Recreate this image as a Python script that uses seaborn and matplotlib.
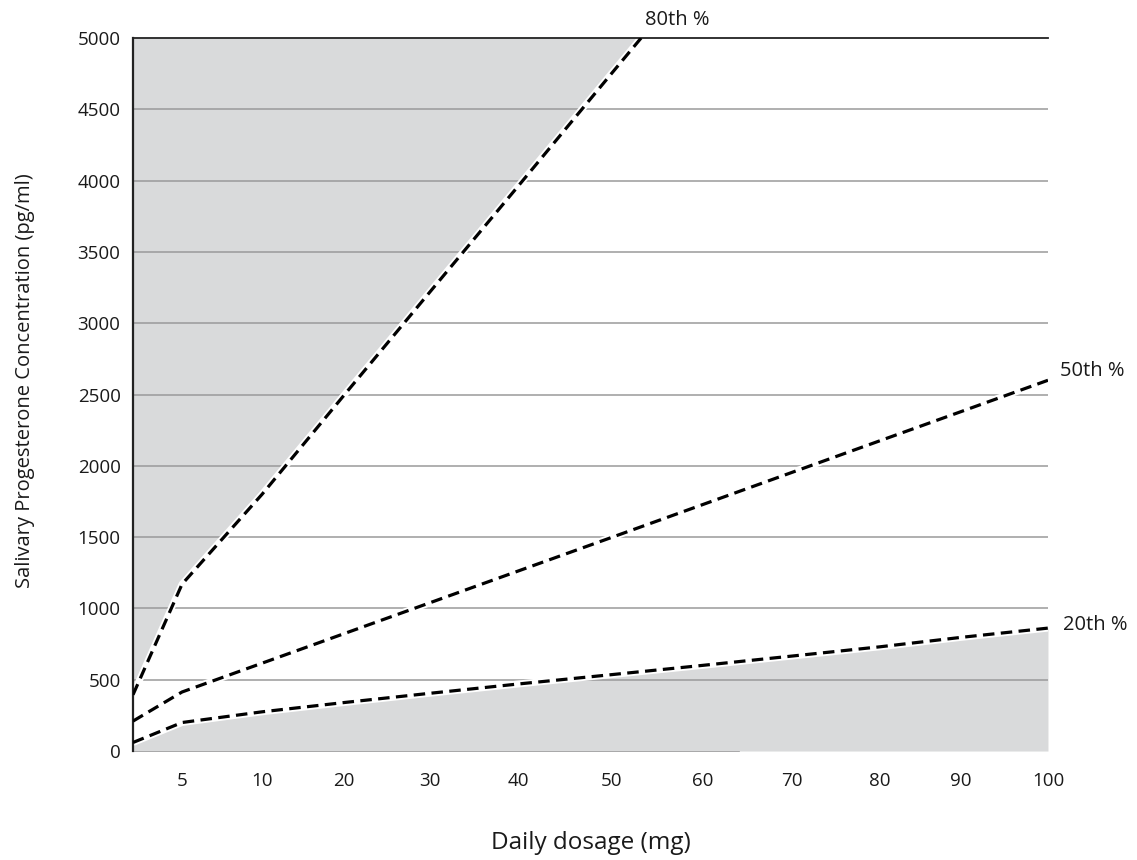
import numpy as np
import pandas as pd
import matplotlib
matplotlib.use("Agg")
import matplotlib.pyplot as plt
import seaborn as sns

# ---- data ----
dose_80 = [2, 5, 10, 20, 30, 40, 50, 53.2]
p80 = [395, 1170, 1800, 2495, 3220, 3960, 4755, 5000]

dose = [2, 5, 10, 20, 30, 40, 50, 60, 70, 80, 90, 100]
p50 = [210, 414, 616, 823, 1040, 1262, 1499, 1729, 1954, 2176, 2380, 2600]
p20 = [60, 200, 275, 340, 405, 470, 536, 601, 666, 731, 797, 862]

labels = ["80th %", "50th %", "20th %"]
x_ticks = [5, 10, 20, 30, 40, 50, 60, 70, 80, 90, 100]
y_ticks = [0, 500, 1000, 1500, 2000, 2500, 3000, 3500, 4000, 4500, 5000]

# ---- axis geometry of the (hand-drawn, irregular) dosage axis ----
scale_breaks = [2, 5, 10, 20, 30, 40, 50, 60, 70, 80, 90, 100]
scale_pos = [133, 182, 262, 344, 430, 518, 612, 703, 792, 880, 961, 1048]

def fwd(x):
    return np.interp(x, scale_breaks, scale_pos)

def inv(p):
    return np.interp(p, scale_pos, scale_breaks)

df = pd.concat([
    pd.DataFrame({"dose": dose_80, "conc": p80, "pct": labels[0]}),
    pd.DataFrame({"dose": dose, "conc": p50, "pct": labels[1]}),
    pd.DataFrame({"dose": dose, "conc": p20, "pct": labels[2]}),
])

sns.set_style("white")
plt.rcParams["font.family"] = ["Open Sans", "DejaVu Sans"]

fig = plt.figure(figsize=(11.37, 8.6), dpi=100)
ax = fig.add_axes([0.117, 0.1267, 0.8047, 0.8291])
ax.set_xscale("function", functions=(fwd, inv))

fill_col = "#d9dadb"
ax.fill_between(dose_80, p80, 5000, color=fill_col, lw=0, zorder=1)
ax.fill_between(dose, 0, p20, color=fill_col, lw=0, zorder=1)

for yv in y_ticks[1:-1]:
    ax.axhline(yv, color="#9a9a9a", lw=1.1, zorder=1.5)

# white halo under the dashed curves
for lab in labels:
    sub = df[df["pct"] == lab]
    ax.plot(sub["dose"], sub["conc"], color="white", lw=5, zorder=2,
            solid_capstyle="butt")

sns.lineplot(data=df, x="dose", y="conc", hue="pct", hue_order=labels,
             palette=["black"] * 3, legend=False, ax=ax, lw=2.3, zorder=3,
             estimator=None, sort=False)
for ln in ax.get_lines()[-3:]:
    ln.set_dashes((3.6, 2.0))

offsets = [(3, 13), (9, 7), (11, 2)]
for lab, off in zip(labels, offsets):
    sub = df[df["pct"] == lab]
    ax.annotate(lab, xy=(sub["dose"].iloc[-1], sub["conc"].iloc[-1]),
                xytext=off, textcoords="offset points", ha="left",
                va="center", fontsize=14.5, color="#1a1a1a",
                annotation_clip=False)

ax.set_xlim(2, 100)
ax.set_ylim(0, 5000)
ax.set_xticks(x_ticks)
ax.set_xticklabels([str(t) for t in x_ticks])
ax.set_yticks(y_ticks)
ax.set_yticklabels([str(t) for t in y_ticks])
ax.tick_params(axis="x", direction="out", length=7, width=1.3, colors="#1a1a1a",
               labelsize=13.5, pad=8)
ax.tick_params(axis="y", length=0, labelsize=13.5, pad=9, colors="#1a1a1a")

ax.spines["right"].set_visible(False)
ax.spines["top"].set_color("#222222")
ax.spines["top"].set_linewidth(1.3)
ax.spines["left"].set_color("#222222")
ax.spines["left"].set_linewidth(1.6)
ax.spines["bottom"].set_color("#555555")
ax.spines["bottom"].set_linewidth(1.2)
ax.spines["bottom"].set_bounds(2, 64)
ax.spines["bottom"].set_zorder(0.5)

ax.set_xlabel("Daily dosage (mg)", fontsize=17.5, color="#1a1a1a")
ax.set_ylabel("Salivary Progesterone Concentration (pg/ml)", fontsize=14.5,
              color="#1a1a1a")
ax.xaxis.set_label_coords(0.5, -0.112)
ax.yaxis.set_label_coords(-0.107, 0.52)
ax.grid(False)

fig.savefig("out.png", dpi=100)
